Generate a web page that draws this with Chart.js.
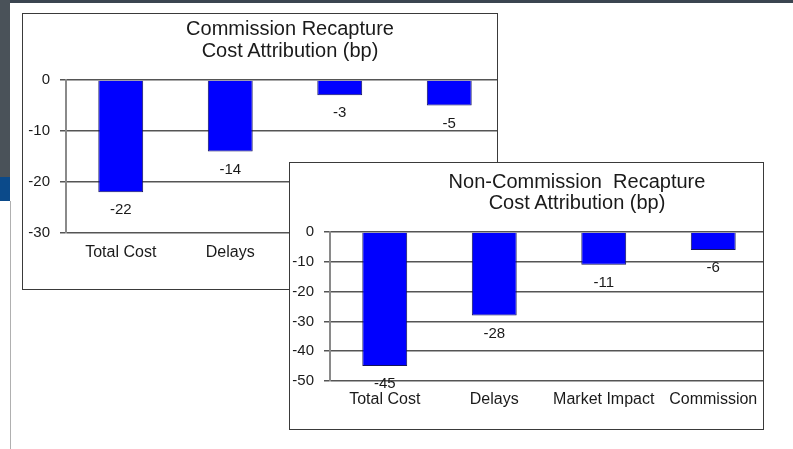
<!DOCTYPE html>
<html>
<head>
<meta charset="utf-8">
<script src="https://cdn.jsdelivr.net/npm/chart.js@4"></script>
<style>
  body { margin: 0; width: 793px; height: 449px; position: relative; background: #fff; overflow: hidden; font-family: "Liberation Sans", Arial, sans-serif; }
  .topbar { position: absolute; left: 0; top: 0; width: 793px; height: 3px; background: #3b4550; }
  .side { position: absolute; left: 0; top: 0; width: 10px; height: 177px; background: #4a5259; }
  .side-blue { position: absolute; left: 0; top: 177px; width: 10px; height: 24px; background: #0b4a8a; }
  .vline { position: absolute; left: 10px; top: 201px; width: 1px; height: 248px; background: #b0b0b0; }
  .panel { position: absolute; background: #fff; border: 1px solid #3a3a3a; box-sizing: border-box; overflow: hidden; }
  .panel canvas { position: absolute; left: 0; top: 0; }
  .title { position: absolute; width: 400px; text-align: center; font-size: 20px; line-height: 22px; color: #1a1a1a; white-space: pre; }
</style>
</head>
<body>
<div class="topbar"></div>
<div class="side"></div>
<div class="side-blue"></div>
<div class="vline"></div>

<div class="panel" id="panel-1" style="left:22px;top:13px;width:476px;height:277px;">
  <canvas id="chart-1" width="481" height="275"></canvas>
  <div class="title" style="left:67px;top:3px;">Commission Recapture
Cost Attribution (bp)</div>
</div>

<div class="panel" id="panel-2" style="left:289px;top:162px;width:475px;height:268px;">
  <canvas id="chart-2" width="478" height="266"></canvas>
  <div class="title" style="left:87px;top:8px;line-height:21px;">Non-Commission  Recapture
Cost Attribution (bp)</div>
</div>

<script>
const categories = ['Total Cost', 'Delays', 'Market Impact', 'Commission']
const commissionCost = [-22, -14, -3, -5]
const nonCommissionCost = [-45, -28, -11, -6]
const commissionAxis = { min: -30, max: 0, step: 10 }
const nonCommissionAxis = { min: -50, max: 0, step: 10 }

const FONT = '"Liberation Sans", Arial, sans-serif'
Chart.defaults.font.family = FONT
Chart.defaults.color = '#1a1a1a'

// value under the end of each bar
const valueLabels = {
  id: 'valueLabels',
  afterDatasetsDraw(chart) {
    const ctx = chart.ctx
    const values = chart.data.datasets[0].data
    ctx.save()
    ctx.font = '15px ' + FONT
    ctx.fillStyle = '#1a1a1a'
    ctx.textAlign = 'center'
    ctx.textBaseline = 'middle'
    chart.getDatasetMeta(0).data.forEach((bar, i) => {
      ctx.fillText(values[i], bar.x, bar.y + 18)
    })
    ctx.restore()
  }
}

const makeChart = (canvas, values, axis, pad) => {
  return new Chart(canvas, {
    type: 'bar',
    data: {
      labels: categories,
      datasets: [{
        data: values,
        backgroundColor: '#0000ff',
        borderColor: '#14145a',
        borderWidth: 1,
        barPercentage: 0.41,
        categoryPercentage: 1
      }]
    },
    options: {
      responsive: false,
      animation: false,
      layout: { padding: { top: pad.top, bottom: pad.bottom, left: 0, right: 0 } },
      plugins: {
        legend: { display: false },
        tooltip: { enabled: false }
      },
      scales: {
        x: {
          grid: { display: false, drawTicks: false, tickLength: 0 },
          border: { display: false },
          ticks: { font: { size: 16 }, color: '#1a1a1a', padding: pad.labelGap },
          afterFit: (scale) => { scale.height = 30 }
        },
        y: {
          min: axis.min,
          max: axis.max,
          ticks: { stepSize: axis.step, font: { size: 15 }, color: '#1a1a1a', padding: 10 },
          grid: { color: '#555', lineWidth: 1.5, tickLength: 6 },
          border: { display: true, color: '#8a8a8a', width: 2 },
          afterFit: (scale) => { scale.width = pad.axisWidth }
        }
      }
    },
    plugins: [valueLabels]
  })
}

makeChart(document.querySelector('#chart-1'), commissionCost, commissionAxis, { top: 66, bottom: 26, axisWidth: 43, labelGap: 10 })
makeChart(document.querySelector('#chart-2'), nonCommissionCost, nonCommissionAxis, { top: 69, bottom: 18, axisWidth: 40, labelGap: 9 })
</script>
</body>
</html>
